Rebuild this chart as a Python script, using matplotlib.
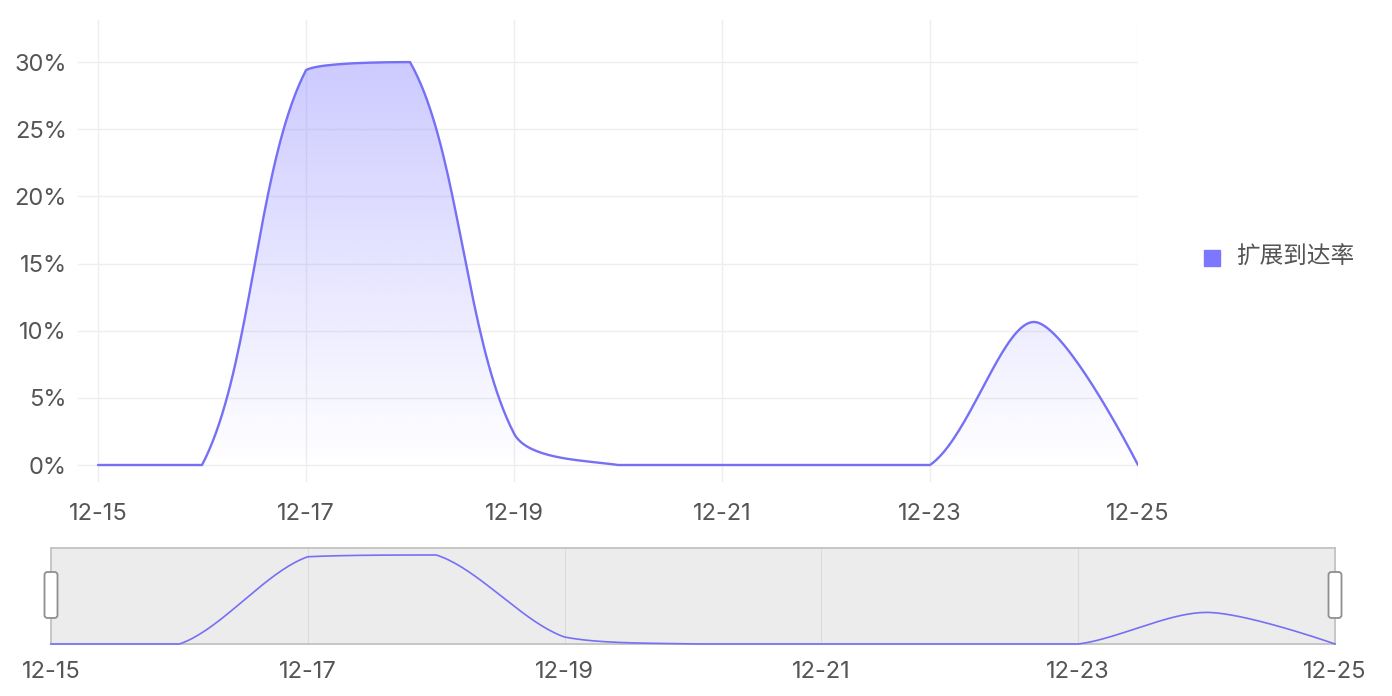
import numpy as np
import matplotlib.pyplot as plt
from matplotlib.patches import Polygon, Rectangle, FancyBboxPatch
from matplotlib.transforms import IdentityTransform

plt.rcParams['font.family'] = ['Inter', 'Noto Sans CJK SC', 'DejaVu Sans']

# data
days = ['12-15', '12-16', '12-17', '12-18', '12-19', '12-20',
        '12-21', '12-22', '12-23', '12-24', '12-25']
rate = [0, 0, 29.4, 30.0, 2.35, 0, 0, 0, 0, 10.65, 0]
y_ticks = [0, 5, 10, 15, 20, 25, 30]
series_name = '扩展到达率'

LINE = '#7570F5'
BASE_RGB = (123 / 255, 116 / 255, 255 / 255)
GRID = '#eeeeee'
TEXT = '#555555'
FS = 17
W, H = 1392, 696


def px_box(left, top, right, bottom):
    return [left / W, 1 - bottom / H, (right - left) / W, (bottom - top) / H]


def smooth_curve(xs, ys, sx, sy, smooth=0.3, steps=40):
    # bezier smoothing in pixel space, control points kept inside the data box
    p = np.column_stack([np.asarray(xs, float) * sx, np.asarray(ys, float) * sy])
    lo, hi = p.min(axis=0), p.max(axis=0)
    n = len(p)
    t = np.linspace(0, 1, steps)[1:, None]
    out = [p[0]]
    cp0 = p[0].copy()
    for i in range(1, n):
        prev, cur = p[i - 1], p[i]
        if i == n - 1:
            cp1 = cur.copy()
            ratio = 0.5
            v = np.zeros(2)
        else:
            nxt = p[i + 1]
            v = nxt - prev
            lp = np.hypot(*(cur - prev))
            ln = np.hypot(*(nxt - cur))
            ratio = ln / (ln + lp)
            cp1 = cur - v * smooth * (1 - ratio)
        cp0 = np.clip(cp0, lo, hi)
        cp1 = np.clip(cp1, lo, hi)
        seg = ((1 - t) ** 3 * prev + 3 * (1 - t) ** 2 * t * cp0
               + 3 * (1 - t) * t ** 2 * cp1 + t ** 3 * cur)
        out.extend(seg)
        cp0 = cur + v * smooth * ratio
    out = np.array(out)
    return out[:, 0] / sx, out[:, 1] / sy


idx = np.arange(len(days))
fig = plt.figure(figsize=(W / 100, H / 100), dpi=100)

# main chart
ax = fig.add_axes(px_box(78, 20, 1138, 482))
ax.set_xlim(-20 / 104, len(days) - 1)
ax.set_ylim(-17 / 13.43, 445 / 13.43)
for s in ax.spines.values():
    s.set_visible(False)
for v in y_ticks:
    ax.axhline(v, color=GRID, lw=1, zorder=0)
for i in idx[::2]:
    ax.axvline(i, color=GRID, lw=1, zorder=0)

cx, cy = smooth_curve(idx, rate, 104, 13.43)
poly = Polygon(np.column_stack([np.r_[cx, cx[-1], cx[0]], np.r_[cy, 0, 0]]),
               closed=True, facecolor='none', edgecolor='none')
ax.add_patch(poly)
grad = np.zeros((256, 1, 4))
grad[..., :3] = BASE_RGB
grad[..., 3] = np.linspace(0, 0.38, 256)[:, None]
im = ax.imshow(grad, extent=[idx[0], idx[-1], 0, max(rate)], origin='lower',
               aspect='auto', zorder=1, interpolation='bilinear')
im.set_clip_path(poly)
ax.plot(cx, cy, color=LINE, lw=1.7, zorder=3, solid_capstyle='round')

ax.set_xticks(idx[::2])
ax.set_xticklabels(days[::2])
ax.set_yticks(y_ticks)
ax.set_yticklabels([f'{v}%' for v in y_ticks])
ax.tick_params(length=0, labelsize=FS, labelcolor=TEXT)
ax.tick_params(axis='y', pad=8)
ax.tick_params(axis='x', pad=15)

# legend
fig.add_artist(Rectangle((1204 / W, 1 - 266 / H), 16 / W, 16 / H,
                         transform=fig.transFigure, color='#7B77FF'))
fig.text(1236 / W, 1 - 258 / H, series_name, fontsize=FS, color=TEXT,
         va='center', ha='left')

# overview strip
ax2 = fig.add_axes(px_box(51, 548, 1335, 644))
ax2.set_facecolor('#ececec')
ax2.set_xlim(0, len(days) - 1)
ax2.set_ylim(0, 96 / 2.967)
for s in ax2.spines.values():
    s.set_color('#c2c2c2')
    s.set_linewidth(1.3)
for i in idx[2:-1:2]:
    ax2.axvline(i, color='#dadada', lw=0.8, zorder=0)
mx, my = smooth_curve(idx, rate, 128.4, 2.967)
ax2.plot(mx, my, color=LINE, lw=1.2, zorder=3, clip_on=False)
ax2.set_yticks([])
ax2.set_xticks(idx[::2])
ax2.set_xticklabels(days[::2])
ax2.tick_params(length=0, labelsize=FS, labelcolor=TEXT, pad=12.5)

for hx in (51, 1335):
    fig.add_artist(FancyBboxPatch((hx - 6.5, H - 618), 13, 46,
                                  boxstyle='round,pad=0,rounding_size=3',
                                  transform=IdentityTransform(),
                                  facecolor='white', edgecolor='#8f8f8f', lw=1.3))

fig.savefig('out.png', dpi=100)
